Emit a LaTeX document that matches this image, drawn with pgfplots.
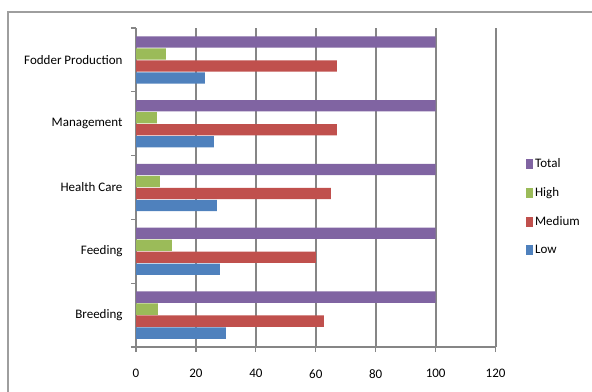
\documentclass[border=0pt]{standalone}
\usepackage{fontspec}
\setmainfont{Carlito}
\usepackage{pgfplots}
\pgfplotsset{compat=1.18}
\definecolor{cTotal}{HTML}{8064A2}
\definecolor{cHigh}{HTML}{9BBB59}
\definecolor{cMed}{HTML}{C0504D}
\definecolor{cLow}{HTML}{4F81BD}
\definecolor{cGrid}{RGB}{134,134,134}
\begin{document}
\fontsize{13bp}{15bp}\selectfont
\begin{tikzpicture}
\useasboundingbox (0,0) rectangle (592bp,392bp);
\draw[cGrid!80, line width=1.2bp] (8bp,0bp) -- (8bp,380bp) -- (592bp,380bp);
\begin{axis}[
  at={(136bp,45bp)}, anchor=south west,
  scale only axis, width=359.6bp, height=319bp,
  xbar, bar width=11.3bp,
  xmin=0, xmax=120, ymin=-0.5, ymax=4.5,
  axis lines*=left,
  axis line style={cGrid, line width=1.8bp, shorten <=-2bp},
  xtick={0,20,...,120},
  xmajorgrids, grid style={cGrid, line width=1.8bp},
  tick align=outside, major tick length=5bp, minor tick length=5bp,
  tick style={cGrid, line width=1.2bp},
  ytick={0,...,4},
  yticklabels={Breeding,Feeding,Health Care,Management,Fodder Production},
  minor ytick={-0.5,0.5,...,4.5},
  major y tick style={draw=none},
  xticklabel style={yshift=-13bp},
  yticklabel style={xshift=-4bp},
  /pgf/number format/assume math mode=true,
  ticklabel style={font=\fontsize{13bp}{15bp}\selectfont},
  reverse legend,
  legend style={draw=none, fill=none, at={(1.076,0.605)}, anchor=north west,
    row sep=14bp, font=\fontsize{13bp}{15bp}\selectfont},
  legend cell align=left,
]
\addplot[fill=cLow, draw=none, bar shift=-18bp,
  legend image code/.code={\fill[cLow] (0bp,-5bp) rectangle (7bp,5bp);}]
  coordinates {(30,0) (28,1) (27,2) (26,3) (23,4)};
\addlegendentry{Low}
\addplot[fill=cMed, draw=none, bar shift=-6bp,
  legend image code/.code={\fill[cMed] (0bp,-5bp) rectangle (7bp,5bp);}]
  coordinates {(62.7,0) (60,1) (65,2) (67,3) (67,4)};
\addlegendentry{Medium}
\addplot[fill=cHigh, draw=none, bar shift=6bp,
  legend image code/.code={\fill[cHigh] (0bp,-5bp) rectangle (7bp,5bp);}]
  coordinates {(7.3,0) (12,1) (8,2) (7,3) (10,4)};
\addlegendentry{High}
\addplot[fill=cTotal, draw=none, bar shift=18bp,
  legend image code/.code={\fill[cTotal] (0bp,-5bp) rectangle (7bp,5bp);}]
  coordinates {(100,0) (100,1) (100,2) (100,3) (100,4)};
\addlegendentry{Total}
\end{axis}
\end{tikzpicture}
\end{document}
